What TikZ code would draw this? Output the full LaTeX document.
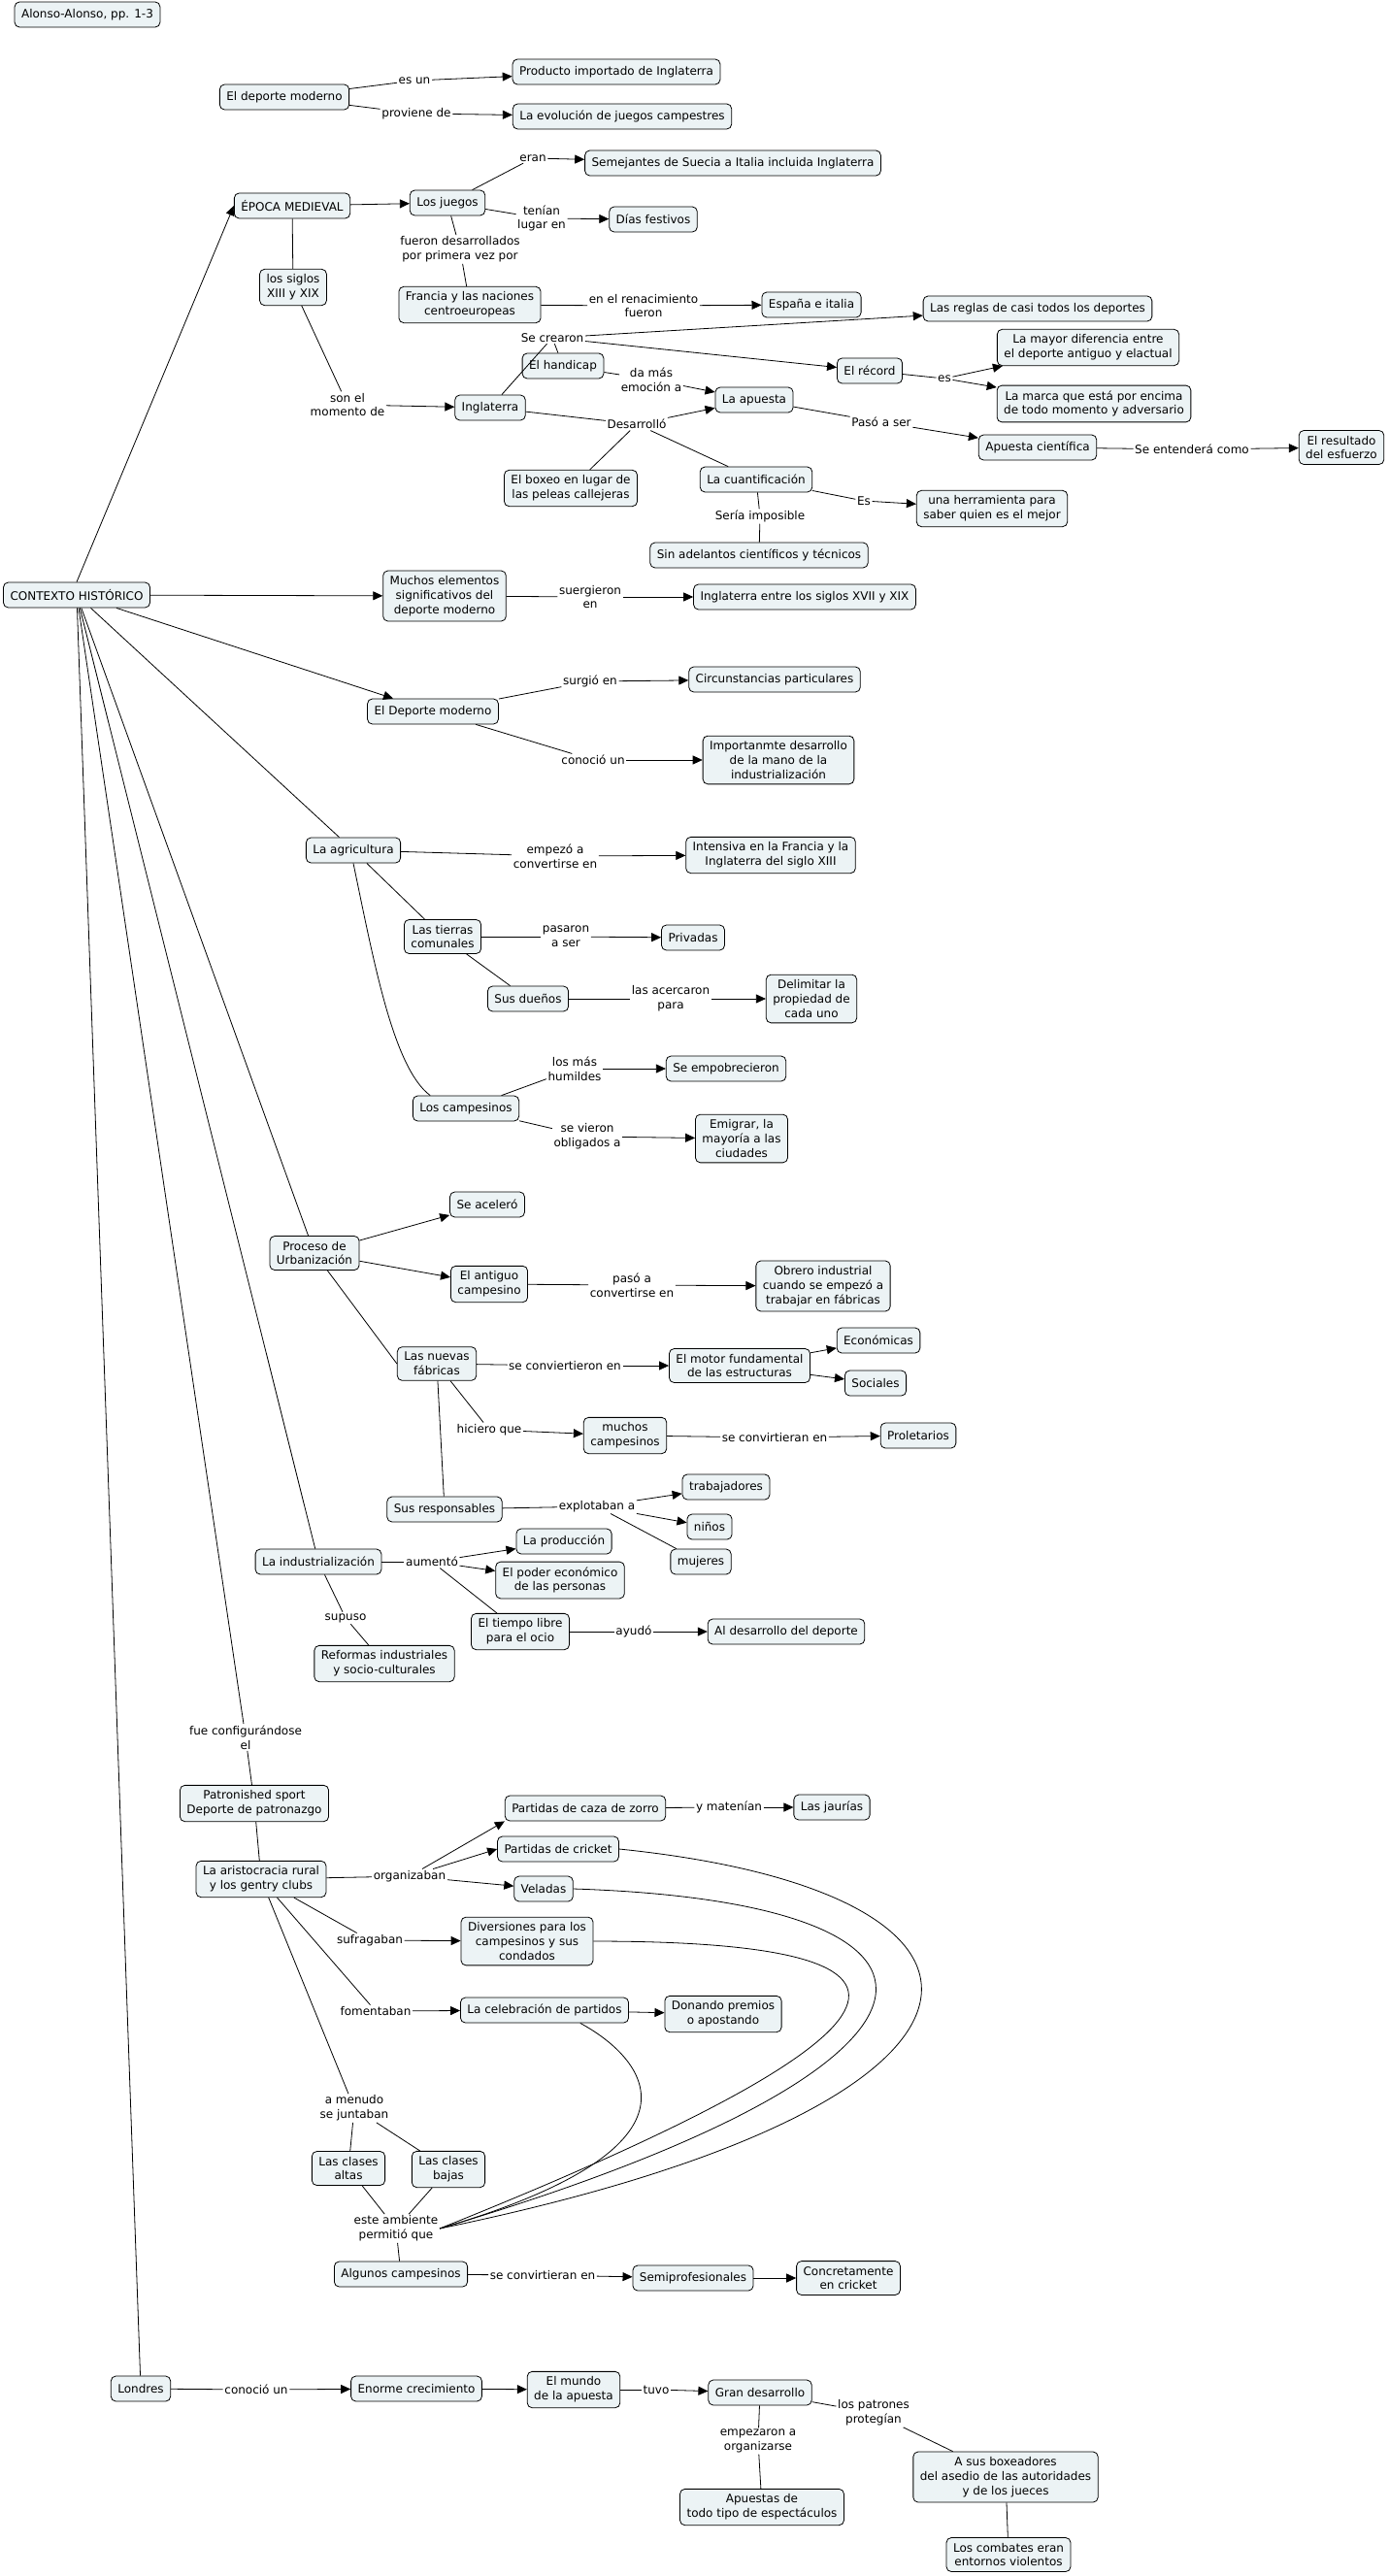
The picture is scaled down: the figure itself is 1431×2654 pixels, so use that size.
\documentclass[tikz,border=0pt]{standalone}
\usepackage{fontspec}
\setmainfont{DejaVu Sans}
\usepackage{xcolor}
\usepackage{tikz}
\usetikzlibrary{arrows.meta}
\definecolor{cmapfill}{RGB}{236,243,245}
\tikzset{
  cpt/.style ={rectangle, draw=black, line width=0.8pt, rounded corners=5pt,
               fill=cmapfill, align=center, inner xsep=7pt, inner ysep=5.5pt,
               minimum height=26pt, text=black,
               font=\fontsize{12}{14.7}\selectfont},
  lnk/.style ={align=center, inner sep=1.5pt, text=black,
               font=\fontsize{12}{14.7}\selectfont},
  ln/.style  ={line width=0.8pt, black},
  ar/.style  ={-{Triangle[length=10pt,width=9pt]}, line width=0.8pt, black}
}

\begin{document}
\begin{tikzpicture}[x=1pt, y=-1pt]
\fill[white] (0,0) rectangle (1431,2654);

%  Cabecera 
\node[cpt] (src) at (90,15) {Alonso-Alonso, pp. 1-3};
\node[cpt] (dmod) at (293,100) {El deporte moderno};
\node[cpt] (prod) at (635,74) {Producto importado de Inglaterra};
\node[cpt] (evol) at (641,120) {La evolución de juegos campestres};
\node[lnk] (lesun) at (427,83) {es un};
\node[lnk] (lprov) at (429,117) {proviene de};

%  Epoca medieval 
\node[cpt] (epoca) at (301,212) {ÉPOCA MEDIEVAL};
\node[cpt] (juegos) at (461,209) {Los juegos};
\node[cpt] (seme) at (755,168) {Semejantes de Suecia a Italia incluida Inglaterra};
\node[cpt] (dias) at (673,226) {Días festivos};
\node[cpt] (siglos) at (302,296) {los siglos\\XIII y XIX};
\node[cpt] (francia) at (484,314) {Francia y las naciones\\centroeuropeas};
\node[cpt] (espana) at (836,314) {España e italia};
\node[cpt] (reglas) at (1069,318) {Las reglas de casi todos los deportes};
\node[cpt] (handi) at (580,377) {El handicap};
\node[cpt] (record) at (896,382) {El récord};
\node[cpt] (mayor) at (1121,358) {La mayor diferencia entre\\el deporte antiguo y elactual};
\node[cpt] (marca) at (1127,416) {La marca que está por encima\\de todo momento y adversario};
\node[cpt] (apuesta) at (777,412) {La apuesta};
\node[cpt] (ingl) at (505,420) {Inglaterra};
\node[cpt] (cient) at (1069,461) {Apuesta científica};
\node[cpt] (result) at (1382,461) {El resultado\\del esfuerzo};
\node[cpt] (cuant) at (779,494) {La cuantificación};
\node[cpt] (herr) at (1022,524) {una herramienta para\\saber quien es el mejor};
\node[cpt] (boxeo) at (588,503) {El boxeo en lugar de\\las peleas callejeras};
\node[cpt] (sinade) at (782,572) {Sin adelantos científicos y técnicos};

\node[lnk] (leran) at (549,163) {eran};
\node[lnk] (ltenian) at (558,225) {tenían\\lugar en};
\node[lnk] (lfueron) at (474,257) {fueron desarrollados\\por primera vez por};
\node[lnk] (lrenac) at (663,315) {en el renacimiento\\fueron};
\node[lnk] (lcrearon) at (569,348) {Se crearon};
\node[lnk] (lemoc) at (671,391) {da más\\emoción a};
\node[lnk] (les) at (973,390) {es};
\node[lnk] (lpaso) at (908,435) {Pasó a ser};
\node[lnk] (lmomento) at (358,417) {son el\\momento de};
\node[lnk] (ldesarr) at (656,437) {Desarrolló};
\node[lnk] (lentend) at (1228,463) {Se entenderá como};
\node[lnk] (lesb) at (890,516) {Es};
\node[lnk] (lseria) at (783,532) {Sería imposible};

%  Contexto historico 
\node[cpt] (ctx) at (79,613) {CONTEXTO HISTÓRICO};
\node[cpt] (muchos) at (458,614) {Muchos elementos\\significativos del\\deporte moderno};
\node[cpt] (inglsig) at (829,615) {Inglaterra entre los siglos XVII y XIX};
\node[cpt] (dmod2) at (446,733) {El Deporte moderno};
\node[cpt] (circ) at (798,700) {Circunstancias particulares};
\node[cpt] (impdes) at (802,783) {Importanmte desarrollo\\de la mano de la\\industrialización};
\node[lnk] (lsuerg) at (608,615) {suergieron\\en};
\node[lnk] (lsurg) at (608,702) {surgió en};
\node[lnk] (lconoc) at (611,783) {conoció un};

%  Agricultura 
\node[cpt] (agri) at (364,876) {La agricultura};
\node[cpt] (intens) at (794,881) {Intensiva en la Francia y la\\Inglaterra del siglo XIII};
\node[cpt] (tierras) at (456,965) {Las tierras\\comunales};
\node[cpt] (priv) at (714,966) {Privadas};
\node[cpt] (duenos) at (544,1029) {Sus dueños};
\node[cpt] (delim) at (836,1029) {Delimitar la\\propiedad de\\cada uno};
\node[cpt] (campes) at (480,1142) {Los campesinos};
\node[cpt] (empob) at (748,1101) {Se empobrecieron};
\node[cpt] (emigr) at (764,1173) {Emigrar, la\\mayoría a las\\ciudades};
\node[lnk] (lempezo) at (572,882) {empezó a\\convertirse en};
\node[lnk] (lpasaron) at (583,965) {pasaron\\a ser};
\node[lnk] (lacerc) at (691,1029) {las acercaron\\para};
\node[lnk] (lhumild) at (592,1101) {los más\\humildes};
\node[lnk] (lvieron) at (605,1171) {se vieron\\obligados a};

%  Urbanizacion 
\node[cpt] (urban) at (324,1291) {Proceso de\\Urbanización};
\node[cpt] (acel) at (502,1241) {Se aceleró};
\node[cpt] (antig) at (504,1323) {El antiguo\\campesino};
\node[cpt] (obrero) at (848,1325) {Obrero industrial\\cuando se empezó a\\trabajar en fábricas};
\node[cpt] (fabr) at (450,1405) {Las nuevas\\fábricas};
\node[cpt] (motor) at (762,1407) {El motor fundamental\\de las estructuras};
\node[cpt] (econ) at (905,1381) {Económicas};
\node[cpt] (soc) at (902,1425) {Sociales};
\node[cpt] (muchcamp) at (644,1479) {muchos\\campesinos};
\node[cpt] (prolet) at (946,1479) {Proletarios};
\node[cpt] (resp) at (458,1555) {Sus responsables};
\node[cpt] (trab) at (748,1532) {trabajadores};
\node[cpt] (ninos) at (731,1573) {niños};
\node[cpt] (mujer) at (722,1609) {mujeres};
\node[lnk] (lpasoconv) at (651,1324) {pasó a\\convertirse en};
\node[lnk] (lconvir) at (582,1407) {se conviertieron en};
\node[lnk] (lhiciero) at (504,1473) {hiciero que};
\node[lnk] (lconvir2) at (798,1481) {se convirtieran en};
\node[lnk] (lexplot) at (615,1552) {explotaban a};

%  Industrializacion 
\node[cpt] (indus) at (328,1609) {La industrialización};
\node[cpt] (produc) at (581,1588) {La producción};
\node[cpt] (poder) at (577,1628) {El poder económico\\de las personas};
\node[cpt] (tiempo) at (536,1681) {El tiempo libre\\para el ocio};
\node[cpt] (aldes) at (810,1681) {Al desarrollo del deporte};
\node[cpt] (reform) at (396,1714) {Reformas industriales\\y socio-culturales};
\node[lnk] (laument) at (445,1609) {aumentó};
\node[lnk] (layudo) at (653,1681) {ayudó};
\node[lnk] (lsupuso) at (356,1667) {supuso};

%  Deporte de patronazgo 
\node[cpt] (patron) at (262,1858) {Patronished sport\\Deporte de patronazgo};
\node[cpt] (arist) at (269,1936) {La aristocracia rural\\y los gentry clubs};
\node[cpt] (caza) at (603,1863) {Partidas de caza de zorro};
\node[cpt] (jaur) at (857,1862) {Las jaurías};
\node[cpt] (cricket) at (575,1905) {Partidas de cricket};
\node[cpt] (velad) at (560,1946) {Veladas};
\node[cpt] (divers) at (543,2000) {Diversiones para los\\campesinos y sus\\condados};
\node[cpt] (celeb) at (561,2071) {La celebración de partidos};
\node[cpt] (donando) at (745,2075) {Donando premios\\o apostando};
\node[cpt] (altas) at (359,2234) {Las clases\\altas};
\node[cpt] (bajas) at (462,2235) {Las clases\\bajas};
\node[cpt] (algunos) at (413,2343) {Algunos campesinos};
\node[cpt] (semipro) at (714,2347) {Semiprofesionales};
\node[cpt] (concr) at (874,2347) {Concretamente\\en cricket};
\node[lnk] (lconfig) at (253,1790) {fue configurándose\\el};
\node[lnk] (lorgan) at (422,1933) {organizaban};
\node[lnk] (lmaten) at (751,1862) {y matenían};
\node[lnk] (lsufrag) at (381,1999) {sufragaban};
\node[lnk] (lfoment) at (387,2072) {fomentaban};
\node[lnk] (lmenudo) at (365,2172) {a menudo\\se juntaban};
\node[lnk] (lambien) at (408,2296) {este ambiente\\permitió que};
\node[lnk] (lconvir3) at (559,2344) {se convirtieran en};

%  Londres 
\node[cpt] (londres) at (145,2461) {Londres};
\node[cpt] (enorme) at (429,2461) {Enorme crecimiento};
\node[cpt] (mundo) at (591,2462) {El mundo\\de la apuesta};
\node[cpt] (gran) at (783,2465) {Gran desarrollo};
\node[cpt] (apuestas) at (785,2583) {Apuestas de\\todo tipo de espectáculos};
\node[cpt] (asus) at (1036,2552) {A sus boxeadores\\del asedio de las autoridades\\y de los jueces};
\node[cpt] (combat) at (1039,2632) {Los combates eran\\entornos violentos};
\node[lnk] (lconoc2) at (264,2462) {conoció un};
\node[lnk] (ltuvo) at (676,2462) {tuvo};
\node[lnk] (lpatron) at (900,2486) {los patrones\\protegían};
\node[lnk] (lorganiz) at (781,2515) {empezaron a\\organizarse};

%  Connections: cabecera 
\draw[ln] (dmod) -- (lesun);   \draw[ar] (lesun) -- (prod);
\draw[ln] (dmod) -- (lprov);   \draw[ar] (lprov) -- (evol);

%  Connections: epoca medieval 
\draw[ar] (ctx.north) -- (epoca.west);
\draw[ar] (epoca) -- (juegos);
\draw[ln] (juegos) -- (leran);   \draw[ar] (leran) -- (seme);
\draw[ln] (juegos) -- (ltenian); \draw[ar] (ltenian) -- (dias);
\draw[ln] (juegos) -- (lfueron); \draw[ln] (lfueron) -- (francia);
\draw[ln] (francia) -- (lrenac); \draw[ar] (lrenac) -- (espana);
\draw[ln] (epoca) -- (siglos);
\draw[ln] (siglos) -- (lmomento); \draw[ar] (lmomento) -- (ingl);
\draw[ln] (ingl) -- (lcrearon);
\draw[ar] (lcrearon) -- (reglas);
\draw[ar] (lcrearon) -- (record);
\draw[ln] (lcrearon) -- (handi);
\draw[ln] (handi) -- (lemoc);    \draw[ar] (lemoc) -- (apuesta);
\draw[ln] (record) -- (les);
\draw[ar] (les) -- (mayor);      \draw[ar] (les) -- (marca);
\draw[ln] (ingl) -- (ldesarr);
\draw[ar] (ldesarr) -- (apuesta);
\draw[ln] (ldesarr) -- (boxeo);
\draw[ln] (ldesarr) -- (cuant);
\draw[ln] (apuesta) -- (lpaso);  \draw[ar] (lpaso) -- (cient);
\draw[ln] (cient) -- (lentend);  \draw[ar] (lentend) -- (result);
\draw[ln] (cuant) -- (lesb);     \draw[ar] (lesb) -- (herr);
\draw[ln] (cuant) -- (lseria);   \draw[ln] (lseria) -- (sinade);

%  Connections: contexto 
\draw[ar] (ctx) -- (muchos);
\draw[ln] (muchos) -- (lsuerg);  \draw[ar] (lsuerg) -- (inglsig);
\draw[ar] (ctx) -- (dmod2);
\draw[ln] (dmod2) -- (lsurg);    \draw[ar] (lsurg) -- (circ);
\draw[ln] (dmod2) -- (lconoc);   \draw[ar] (lconoc) -- (impdes);

%  Connections: agricultura 
\draw[ln] (ctx) -- (agri);
\draw[ln] (agri) -- (lempezo);   \draw[ar] (lempezo) -- (intens);
\draw[ln] (agri) -- (tierras);
\draw[ln] (agri.south) .. controls (385,990) and (405,1100) .. (campes.160);
\draw[ln] (tierras) -- (lpasaron); \draw[ar] (lpasaron) -- (priv);
\draw[ln] (tierras) -- (duenos);
\draw[ln] (duenos) -- (lacerc);  \draw[ar] (lacerc) -- (delim);
\draw[ln] (campes) -- (lhumild); \draw[ar] (lhumild) -- (empob);
\draw[ln] (campes) -- (lvieron); \draw[ar] (lvieron) -- (emigr);

%  Connections: urbanizacion 
\draw[ln] (ctx) -- (urban);
\draw[ar] (urban) -- (acel);
\draw[ar] (urban) -- (antig);
\draw[ln] (antig) -- (lpasoconv); \draw[ar] (lpasoconv) -- (obrero);
\draw[ln] (urban) -- (fabr.west);
\draw[ln] (fabr) -- (lconvir);   \draw[ar] (lconvir) -- (motor);
\draw[ar] (motor) -- (econ);     \draw[ar] (motor) -- (soc);
\draw[ln] (fabr) -- (lhiciero);  \draw[ar] (lhiciero) -- (muchcamp);
\draw[ln] (muchcamp) -- (lconvir2); \draw[ar] (lconvir2) -- (prolet);
\draw[ln] (fabr) -- (resp);
\draw[ln] (resp) -- (lexplot);
\draw[ar] (lexplot) -- (trab);   \draw[ar] (lexplot) -- (ninos);
\draw[ln] (lexplot) -- (mujer);

%  Connections: industrializacion 
\draw[ln] (ctx) -- (indus);
\draw[ln] (indus) -- (laument);
\draw[ar] (laument) -- (produc); \draw[ar] (laument) -- (poder);
\draw[ln] (laument) -- (tiempo);
\draw[ln] (tiempo) -- (layudo);  \draw[ar] (layudo) -- (aldes);
\draw[ln] (indus) -- (lsupuso);  \draw[ln] (lsupuso) -- (reform);

%  Connections: patronazgo 
\draw[ln] (ctx) -- (lconfig);    \draw[ln] (lconfig) -- (patron);
\draw[ln] (patron) -- (arist);
\draw[ln] (arist) -- (lorgan);
\draw[ar] (lorgan) -- (caza.south west);
\draw[ar] (lorgan) -- (cricket.west);
\draw[ar] (lorgan) -- (velad);
\draw[ln] (caza) -- (lmaten);    \draw[ar] (lmaten) -- (jaur);
\draw[ln] (arist) -- (lsufrag);  \draw[ar] (lsufrag) -- (divers);
\draw[ln] (arist) -- (lfoment);  \draw[ar] (lfoment) -- (celeb);
\draw[ar] (celeb) -- (donando);
\draw[ln] (arist) -- (lmenudo);
\draw[ln] (lmenudo) -- (altas);  \draw[ln] (lmenudo) -- (bajas);
\draw[ln] (altas) -- (lambien);  \draw[ln] (bajas) -- (lambien);
\draw[ln] (cricket.east) .. controls (1080,1950) and (1080,2167) .. (lambien.east);
\draw[ln] (velad.east) .. controls (1027,1960) and (1027,2125) .. (lambien.east);
\draw[ln] (divers.east) .. controls (985,2000) and (985,2083) .. (lambien.east);
\draw[ln] (celeb.-20) .. controls (660,2118) and (749,2209) .. (lambien.east);
\draw[ln] (lambien) -- (algunos);
\draw[ln] (algunos) -- (lconvir3); \draw[ar] (lconvir3) -- (semipro);
\draw[ar] (semipro) -- (concr);

%  Connections: Londres 
\draw[ln] (ctx) -- (londres);
\draw[ln] (londres) -- (lconoc2); \draw[ar] (lconoc2) -- (enorme);
\draw[ar] (enorme) -- (mundo);
\draw[ln] (mundo) -- (ltuvo);    \draw[ar] (ltuvo) -- (gran);
\draw[ln] (gran) -- (lpatron);   \draw[ln] (lpatron) -- (asus);
\draw[ln] (gran) -- (lorganiz);  \draw[ln] (lorganiz) -- (apuestas);
\draw[ln] (asus) -- (combat);
\end{tikzpicture}
\end{document}
